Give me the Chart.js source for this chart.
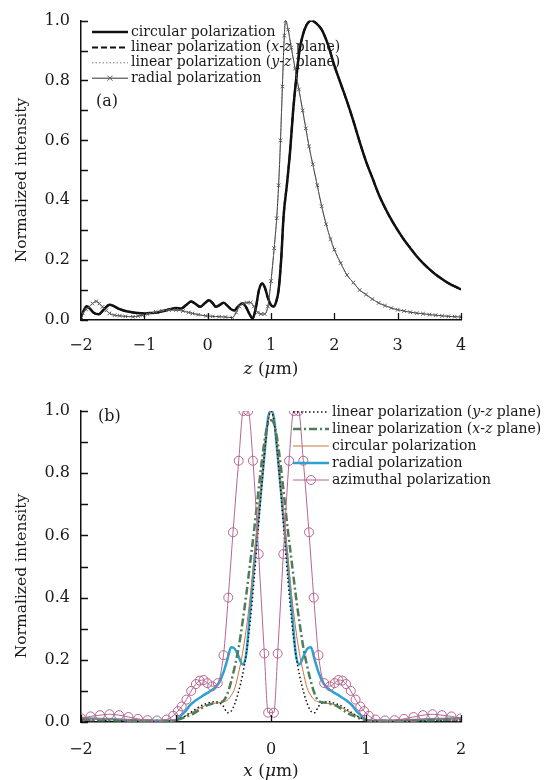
<!DOCTYPE html>
<html>
<head>
<meta charset="utf-8">
<script src="https://cdn.jsdelivr.net/npm/chart.js@4.4.1/dist/chart.umd.min.js"></script>
<style>
  body { margin: 0; background: #fff; }
  canvas { display: block; }
</style>
</head>
<body>
<canvas id="chartA" width="547" height="390"></canvas>
<canvas id="chartB" width="547" height="390"></canvas>
<script>
// ---- panel (a): intensity along z ----
const zCirc = [-2, -1.95, -1.91, -1.86, -1.8, -1.72, -1.64, -1.55, -1.47, -1.39, -1.3, -1.2, -1.1, -1, -0.9, -0.8, -0.7, -0.6, -0.5, -0.42,
  -0.34, -0.26, -0.18, -0.12, -0.05, 0.02, 0.08, 0.13, 0.19, 0.25, 0.31, 0.37, 0.42, 0.48, 0.55, 0.6, 0.66, 0.71, 0.76, 0.81,
  0.86, 0.9, 0.95, 1, 1.04, 1.08, 1.12, 1.16, 1.2, 1.25, 1.3, 1.35, 1.4, 1.45, 1.5, 1.56, 1.64, 1.72, 1.8, 1.9,
  2, 2.1, 2.2, 2.3, 2.4, 2.5, 2.6, 2.7, 2.8, 2.9, 3, 3.1, 3.2, 3.3, 3.4, 3.5, 3.6, 3.7, 3.8, 3.9, 4];
const iCirc = [0.01, 0.035, 0.046, 0.038, 0.024, 0.019, 0.035, 0.051, 0.045, 0.036, 0.03, 0.026, 0.023, 0.022, 0.023, 0.025, 0.03, 0.036, 0.04, 0.038,
  0.05, 0.062, 0.052, 0.044, 0.055, 0.066, 0.056, 0.044, 0.05, 0.058, 0.048, 0.036, 0.032, 0.045, 0.055, 0.045, 0.02, 0.005, 0.04, 0.1,
  0.122, 0.11, 0.075, 0.05, 0.045, 0.06, 0.1, 0.2, 0.35, 0.45, 0.56, 0.7, 0.81, 0.9, 0.95, 0.985, 1.0, 0.99, 0.97, 0.92,
  0.85, 0.79, 0.73, 0.665, 0.595, 0.53, 0.475, 0.42, 0.375, 0.335, 0.3, 0.268, 0.24, 0.213, 0.19, 0.17, 0.152, 0.137, 0.123, 0.112, 0.102];
const zRad = [-2, -1.97, -1.92, -1.87, -1.82, -1.76, -1.71, -1.66, -1.6, -1.55, -1.47, -1.39, -1.3, -1.18, -1.1, -1.03, -0.95, -0.82, -0.72, -0.61,
  -0.5, -0.39, -0.3, -0.24, -0.15, -0.03, 0.08, 0.18, 0.28, 0.39, 0.45, 0.5, 0.55, 0.62, 0.68, 0.73, 0.79, 0.84, 0.9, 0.95,
  1, 1.05, 1.09, 1.12, 1.15, 1.18, 1.21, 1.23, 1.27, 1.32, 1.38, 1.44, 1.5, 1.55, 1.6, 1.66, 1.73, 1.8, 1.87, 1.94,
  2, 2.1, 2.2, 2.3, 2.4, 2.5, 2.6, 2.7, 2.8, 2.9, 3, 3.1, 3.2, 3.3, 3.4, 3.5, 3.6, 3.7, 3.8, 3.9, 4];
const iRad = [0.01, 0.022, 0.035, 0.044, 0.055, 0.062, 0.055, 0.044, 0.032, 0.022, 0.016, 0.014, 0.012, 0.011, 0.013, 0.016, 0.02, 0.027, 0.031, 0.033,
  0.033, 0.03, 0.025, 0.022, 0.018, 0.014, 0.012, 0.011, 0.01, 0.008, 0.025, 0.045, 0.055, 0.058, 0.058, 0.045, 0.025, 0.02, 0.02, 0.045,
  0.13, 0.24, 0.34, 0.45, 0.6, 0.78, 0.95, 1.0, 0.97, 0.91, 0.84, 0.77, 0.7, 0.64, 0.58, 0.52, 0.45, 0.38, 0.32, 0.27,
  0.235, 0.19, 0.15, 0.125, 0.1, 0.085, 0.07, 0.057, 0.048, 0.04, 0.034, 0.03, 0.026, 0.023, 0.021, 0.018, 0.016, 0.014, 0.012, 0.011, 0.01];

// ---- panel (b): intensity along x ----
const xB = [-2, -1.8, -1.6, -1.4, -1.2, -1.05, -1, -0.95, -0.9, -0.85, -0.8, -0.75, -0.7, -0.65, -0.6, -0.55, -0.5, -0.46, -0.42, -0.38,
  -0.34, -0.3, -0.26, -0.22, -0.18, -0.14, -0.1, -0.06, -0.03, 0, 0.03, 0.06, 0.1, 0.14, 0.18, 0.22, 0.26, 0.3, 0.34, 0.38,
  0.42, 0.46, 0.5, 0.55, 0.6, 0.65, 0.7, 0.75, 0.8, 0.85, 0.9, 0.95, 1, 1.05, 1.2, 1.4, 1.6, 1.8, 2];
const bLinY = [0.005, 0.004, 0.003, 0.002, 0.002, 0.003, 0.006, 0.012, 0.02, 0.03, 0.04, 0.05, 0.057, 0.062, 0.065, 0.063, 0.05, 0.03, 0.035, 0.06,
  0.1, 0.15, 0.22, 0.32, 0.45, 0.6, 0.75, 0.89, 0.97, 1.0, 0.97, 0.89, 0.75, 0.6, 0.45, 0.32, 0.22, 0.15, 0.1, 0.06,
  0.035, 0.03, 0.05, 0.063, 0.065, 0.062, 0.057, 0.05, 0.04, 0.03, 0.02, 0.012, 0.006, 0.003, 0.002, 0.002, 0.003, 0.004, 0.005];
const bLinX = [0.008, 0.006, 0.005, 0.004, 0.004, 0.004, 0.006, 0.01, 0.016, 0.022, 0.03, 0.04, 0.05, 0.056, 0.06, 0.063, 0.068, 0.09, 0.13, 0.18,
  0.24, 0.32, 0.41, 0.51, 0.61, 0.72, 0.83, 0.92, 0.96, 0.97, 0.96, 0.92, 0.83, 0.72, 0.61, 0.51, 0.41, 0.32, 0.24, 0.18,
  0.13, 0.09, 0.068, 0.063, 0.06, 0.056, 0.05, 0.04, 0.03, 0.022, 0.016, 0.01, 0.006, 0.004, 0.004, 0.004, 0.005, 0.006, 0.008];
const bCirc = [0.012, 0.01, 0.008, 0.006, 0.005, 0.004, 0.006, 0.012, 0.02, 0.028, 0.036, 0.045, 0.052, 0.057, 0.06, 0.062, 0.065, 0.07, 0.085, 0.11,
  0.16, 0.22, 0.3, 0.4, 0.52, 0.65, 0.78, 0.9, 0.97, 1.0, 0.97, 0.9, 0.78, 0.65, 0.52, 0.4, 0.3, 0.22, 0.16, 0.11,
  0.085, 0.07, 0.065, 0.062, 0.06, 0.057, 0.052, 0.045, 0.036, 0.028, 0.02, 0.012, 0.006, 0.004, 0.005, 0.006, 0.008, 0.01, 0.012];
const bRad = [0.012, 0.01, 0.008, 0.005, 0.004, 0.004, 0.006, 0.02, 0.035, 0.055, 0.068, 0.078, 0.088, 0.097, 0.108, 0.125, 0.16, 0.2, 0.24, 0.235,
  0.21, 0.185, 0.22, 0.36, 0.5, 0.63, 0.76, 0.89, 0.98, 1.0, 0.98, 0.89, 0.76, 0.63, 0.5, 0.36, 0.22, 0.185, 0.21, 0.235,
  0.24, 0.2, 0.16, 0.125, 0.108, 0.097, 0.088, 0.078, 0.068, 0.055, 0.035, 0.02, 0.006, 0.004, 0.004, 0.005, 0.008, 0.01, 0.012];
const xAzi = [-2, -1.9, -1.8, -1.7, -1.6, -1.5, -1.4, -1.3, -1.2, -1.1, -1.03, -0.98, -0.94, -0.89, -0.84, -0.79, -0.75, -0.71, -0.67, -0.62,
  -0.56, -0.5, -0.45, -0.4, -0.34, -0.29, -0.24, -0.19, -0.13, -0.07, -0.03, 0.03, 0.07, 0.13, 0.19, 0.24, 0.29, 0.34, 0.4, 0.45,
  0.5, 0.56, 0.62, 0.67, 0.71, 0.75, 0.79, 0.84, 0.89, 0.94, 0.98, 1.03, 1.1, 1.2, 1.3, 1.4, 1.5, 1.6, 1.7, 1.8, 1.9, 2];
const bAzi = [0.012, 0.018, 0.022, 0.025, 0.022, 0.016, 0.01, 0.006, 0.005, 0.008, 0.02, 0.035, 0.05, 0.072, 0.1, 0.122, 0.133, 0.135, 0.125, 0.115,
  0.125, 0.215, 0.4, 0.61, 0.84, 1.0, 1.0, 0.84, 0.54, 0.22, 0.03, 0.03, 0.22, 0.54, 0.84, 1.0, 1.0, 0.84, 0.61, 0.4,
  0.215, 0.125, 0.115, 0.125, 0.135, 0.133, 0.122, 0.1, 0.072, 0.05, 0.035, 0.02, 0.008, 0.005, 0.006, 0.01, 0.016, 0.022, 0.025, 0.022, 0.018, 0.012];

// tick labels
const xTicksA = [-2, -1, 0, 1, 2, 3, 4];
const xTicksB = [-2, -1, 0, 1, 2];
const yLabels = [0, 0.2, 0.4, 0.6, 0.8, 1.0];

const serif = '"DejaVu Serif", serif';
const pts = (xs, ys) => xs.map((x, i) => ({ x: x, y: ys[i] }));

function drawRuns(ctx, runs, x, y, size, align) {
  const fonts = runs.map(r => (r[1] ? 'italic ' : '') + size + 'px ' + serif);
  let w = 0;
  runs.forEach((r, i) => { ctx.font = fonts[i]; w += ctx.measureText(r[0]).width; });
  let cx = align === 'center' ? x - w / 2 : x;
  ctx.textAlign = 'left';
  ctx.textBaseline = 'middle';
  runs.forEach((r, i) => {
    ctx.font = fonts[i];
    ctx.fillText(r[0], cx, y);
    cx += ctx.measureText(r[0]).width;
  });
}

function drawSample(ctx, ds, x0, x1, y) {
  ctx.save();
  ctx.strokeStyle = ds.borderColor;
  ctx.lineWidth = ds.borderWidth;
  ctx.setLineDash(ds.borderDash || []);
  ctx.beginPath(); ctx.moveTo(x0, y); ctx.lineTo(x1, y); ctx.stroke();
  ctx.setLineDash([]);
  if (ds.pointRadius > 0) {
    const mx = (x0 + x1) / 2, r = ds.pointRadius;
    ctx.strokeStyle = ds.pointBorderColor || ds.borderColor;
    ctx.lineWidth = ds.pointBorderWidth || 1;
    ctx.beginPath();
    if (ds.pointStyle === 'circle') {
      ctx.arc(mx, y, r, 0, Math.PI * 2);
    } else {
      ctx.moveTo(mx - r, y - r); ctx.lineTo(mx + r, y + r);
      ctx.moveTo(mx - r, y + r); ctx.lineTo(mx + r, y - r);
    }
    ctx.stroke();
  }
  ctx.restore();
}

// inward tick marks, labels, legends
const figText = {
  id: 'figText',
  afterDatasetsDraw(chart, args, opts) {
    const { ctx, chartArea, scales: { x, y } } = chart;
    ctx.save();
    ctx.strokeStyle = '#111';
    ctx.lineWidth = 1.3;
    ctx.beginPath();
    y.ticks.forEach(t => {
      const py = Math.round(y.getPixelForValue(t.value)) + 0.5;
      ctx.moveTo(chartArea.left, py); ctx.lineTo(chartArea.left + 7, py);
    });
    x.ticks.forEach(t => {
      const px = Math.round(x.getPixelForValue(t.value)) + 0.5;
      ctx.moveTo(px, chartArea.bottom); ctx.lineTo(px, chartArea.bottom - 7);
    });
    ctx.stroke();

    ctx.fillStyle = '#1a1a1a';
    drawRuns(ctx, [[opts.panel.text, false]], opts.panel.x, opts.panel.y, 16, 'left');
    drawRuns(ctx, opts.xTitle.runs, opts.xTitle.x, opts.xTitle.y, 17, 'center');
    ctx.save();
    ctx.translate(opts.yTitle.x, opts.yTitle.y);
    ctx.rotate(-Math.PI / 2);
    drawRuns(ctx, [['Normalized intensity', false]], 0, 0, 15.5, 'center');
    ctx.restore();

    const lg = opts.legend;
    lg.items.forEach((it, k) => {
      const yy = lg.y0 + k * lg.dy;
      drawSample(ctx, chart.data.datasets[it.ds], lg.x0, lg.x1, yy);
      ctx.fillStyle = '#1a1a1a';
      drawRuns(ctx, it.runs, lg.tx, yy, 14, 'left');
    });
    ctx.restore();
  }
};

function makeScales(xMin, xMax, xTicks, xHeight, xPad) {
  return {
    x: {
      type: 'linear', min: xMin, max: xMax,
      grid: { display: false, drawTicks: false },
      border: { display: true, color: '#111', width: 1.5 },
      ticks: {
        stepSize: 1, padding: xPad, color: '#1a1a1a', maxRotation: 0,
        font: { family: serif, size: 16 },
        callback: v => xTicks.includes(v) ? (v < 0 ? '\u2212' + Math.abs(v) : String(v)) : ''
      },
      afterFit: s => { s.height = xHeight; }
    },
    y: {
      min: 0, max: 1,
      grid: { display: false, drawTicks: false },
      border: { display: true, color: '#111', width: 1.5 },
      ticks: {
        stepSize: 0.1, padding: 11, color: '#1a1a1a',
        font: { family: serif, size: 16 },
        callback: v => {
          const r = Math.round(v * 10) / 10;
          return yLabels.some(l => Math.abs(l - r) < 1e-6) ? r.toFixed(1) : '';
        }
      },
      afterFit: s => { s.width = 81; }
    }
  };
}

const lineBase = { fill: false, cubicInterpolationMode: 'monotone', pointRadius: 0 };

// panel (a)
const dsA = [
  Object.assign({}, lineBase, { label: 'linear polarization (y-z plane)', data: pts(zRad, iRad),
    borderColor: '#777', borderWidth: 1, borderDash: [1.5, 2] }),
  Object.assign({}, lineBase, { label: 'radial polarization', data: pts(zRad, iRad),
    borderColor: '#333', borderWidth: 1, pointRadius: 2.5, pointStyle: 'crossRot',
    pointBorderColor: '#555', pointBorderWidth: 1 }),
  Object.assign({}, lineBase, { label: 'linear polarization (x-z plane)', data: pts(zCirc, iCirc),
    borderColor: '#111', borderWidth: 2, borderDash: [6, 3] }),
  Object.assign({}, lineBase, { label: 'circular polarization', data: pts(zCirc, iCirc),
    borderColor: '#111', borderWidth: 2.5 })
];

new Chart(document.getElementById('chartA'), {
  type: 'line',
  data: { datasets: dsA },
  options: {
    responsive: false, animation: false, devicePixelRatio: 1,
    layout: { padding: { left: 0, right: 86, top: 16, bottom: 0 } },
    scales: makeScales(-2, 4, xTicksA, 70, 16),
    plugins: {
      legend: { display: false }, tooltip: { enabled: false },
      figText: {
        panel: { text: '(a)', x: 96, y: 102 },
        xTitle: { runs: [['z', true], [' (', false], ['\u03bc', true], ['m)', false]], x: 271, y: 370 },
        yTitle: { x: 22, y: 180 },
        legend: {
          x0: 92, x1: 128, tx: 131, y0: 32, dy: 15.4,
          items: [
            { ds: 3, runs: [['circular polarization', false]] },
            { ds: 2, runs: [['linear polarization (', false], ['x', true], ['-', false], ['z', true], [' plane)', false]] },
            { ds: 0, runs: [['linear polarization (', false], ['y', true], ['-', false], ['z', true], [' plane)', false]] },
            { ds: 1, runs: [['radial polarization', false]] }
          ]
        }
      }
    }
  },
  plugins: [figText]
});

// panel (b)
const dsB = [
  Object.assign({}, lineBase, { label: 'azimuthal polarization', data: pts(xAzi, bAzi),
    borderColor: '#b4668f', borderWidth: 1, pointRadius: 4.5, pointStyle: 'circle',
    pointBorderColor: '#b4668f', pointBackgroundColor: 'rgba(0,0,0,0)', pointBorderWidth: 1 }),
  Object.assign({}, lineBase, { label: 'linear polarization (x-z plane)', data: pts(xB, bLinX),
    borderColor: '#4d7d5b', borderWidth: 2.5, borderDash: [8, 3, 2, 3] }),
  Object.assign({}, lineBase, { label: 'linear polarization (y-z plane)', data: pts(xB, bLinY),
    borderColor: '#111', borderWidth: 1.5, borderDash: [1.5, 2.5] }),
  Object.assign({}, lineBase, { label: 'circular polarization', data: pts(xB, bCirc),
    borderColor: '#c9743f', borderWidth: 1 }),
  Object.assign({}, lineBase, { label: 'radial polarization', data: pts(xB, bRad),
    borderColor: '#2ba2d3', borderWidth: 2.5 })
];

new Chart(document.getElementById('chartB'), {
  type: 'line',
  data: { datasets: dsB },
  options: {
    responsive: false, animation: false, devicePixelRatio: 1,
    layout: { padding: { left: 0, right: 86, top: 21, bottom: 0 } },
    scales: makeScales(-2, 2, xTicksB, 58, 18),
    plugins: {
      legend: { display: false }, tooltip: { enabled: false },
      figText: {
        panel: { text: '(b)', x: 98, y: 27 },
        xTitle: { runs: [['x', true], [' (', false], ['\u03bc', true], ['m)', false]], x: 271, y: 382 },
        yTitle: { x: 22, y: 186 },
        legend: {
          x0: 293, x1: 329, tx: 332, y0: 22, dy: 17,
          items: [
            { ds: 2, runs: [['linear polarization (', false], ['y', true], ['-', false], ['z', true], [' plane)', false]] },
            { ds: 1, runs: [['linear polarization (', false], ['x', true], ['-', false], ['z', true], [' plane)', false]] },
            { ds: 3, runs: [['circular polarization', false]] },
            { ds: 4, runs: [['radial polarization', false]] },
            { ds: 0, runs: [['azimuthal polarization', false]] }
          ]
        }
      }
    }
  },
  plugins: [figText]
});
</script>
</body>
</html>
